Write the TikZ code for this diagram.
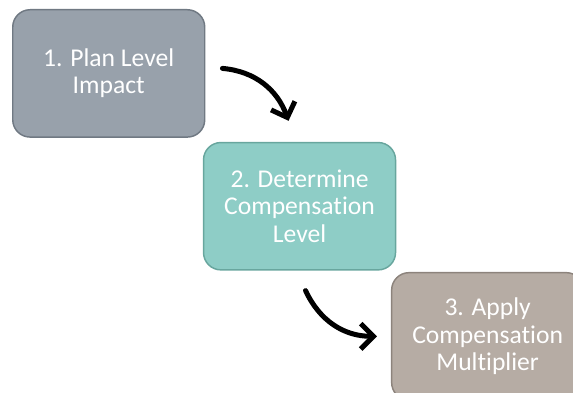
\documentclass[tikz,border=0pt]{standalone}
\usepackage{fontspec}
\setmainfont[Ligatures=NoCommon]{Carlito}
\usetikzlibrary{arrows.meta,positioning}

\definecolor{planfill}{RGB}{152,161,171}
\definecolor{plandraw}{RGB}{112,121,131}
\definecolor{compfill}{RGB}{142,205,198}
\definecolor{compdraw}{RGB}{104,166,158}
\definecolor{multfill}{RGB}{182,172,164}
\definecolor{multdraw}{RGB}{140,131,124}

\begin{document}
\begin{tikzpicture}[
            block/.style={draw,rectangle,rounded corners=13pt,line width=1.1pt,align=center,
                          minimum width=144pt,minimum height=95.5pt,inner sep=3pt,
                          text=white,font=\fontsize{19.2pt}{20.6pt}\selectfont},
            line/.style={-{Straight Barb[length=9.5pt,width=19pt]},line width=3.75pt,line cap=round}
        ]
        \useasboundingbox (0,0) rectangle (429.75pt,-294pt);
        % the three steps, stacked diagonally
        \node[block,fill=planfill,draw=plandraw,anchor=north west] (plan) at (9pt,-6.75pt)
            {1. Plan Level\\Impact};
        \node[block,fill=compfill,draw=compdraw,below right=3pt and -2pt of plan] (comp)
            {2. Determine\\Compensation\\Level};
        \node[block,fill=multfill,draw=multdraw,below right=1pt and -4pt of comp] (mult)
            {3. Apply\\Compensation\\Multiplier};
        % curved arrows between the steps
        \draw[line] ([xshift=12.75pt,yshift=3.75pt]plan.east) to[out=-5,in=110]
            ([xshift=-8.25pt,yshift=15.75pt]comp.north);
        \draw[line] ([xshift=4.5pt,yshift=-15pt]comp.south) to[out=-65,in=180]
            ([xshift=-10.5pt]mult.west);
        \end{tikzpicture}
\end{document}
